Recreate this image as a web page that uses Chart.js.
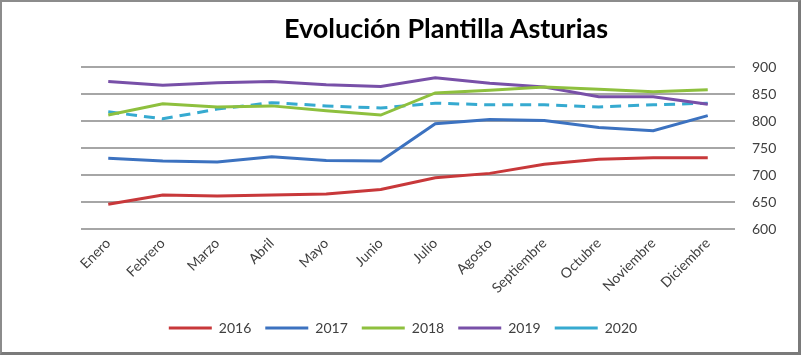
<!DOCTYPE html>
<html>
<head>
<meta charset="utf-8">
<script src="https://cdn.jsdelivr.net/npm/chart.js@4/dist/chart.umd.min.js"></script>
<style>
  html, body { margin: 0; padding: 0; background: #fff; }
  #wrap { position: relative; width: 801px; height: 355px; overflow: hidden; }
  #c { position: absolute; left: 0; top: 0; }
  #title { position: absolute; top: 11px; left: 0; width: 892px; text-align: center;
    font-family: Lato, "Liberation Sans", sans-serif; font-weight: bold; font-size: 27px; color: #000; }
  #frame { position: absolute; left: 0; top: 0; width: 801px; height: 355px; box-sizing: border-box;
    border-top: 2px solid #8c8c8c; border-left: 2px solid #8c8c8c;
    border-right: 3px solid #7a7a7a; border-bottom: 3px solid #7a7a7a; pointer-events: none; }
</style>
</head>
<body>
<div id="wrap">
  <canvas id="c" width="801" height="355"></canvas>
  <div id="title">Evolución Plantilla Asturias</div>
  <div id="frame"></div>
</div>
<script>
const months = ["Enero","Febrero","Marzo","Abril","Mayo","Junio","Julio","Agosto","Septiembre","Octubre","Noviembre","Diciembre"];
const yTicks = [600, 650, 700, 750, 800, 850, 900];
const s2016 = [646, 663, 661, 663, 665, 673, 695, 703, 720, 729, 732, 732];
const s2017 = [731, 726, 724, 734, 727, 726, 795, 803, 801, 788, 782, 810];
const s2018 = [811, 832, 826, 828, 819, 811, 852, 857, 863, 859, 854, 858];
const s2019 = [873, 866, 871, 873, 867, 864, 880, 870, 863, 845, 845, 831];
const s2020 = [817, 804, 822, 834, 828, 824, 833, 830, 830, 826, 830, 833];

const font = "Lato, 'Liberation Sans', sans-serif";
function ds(label, data, color, dash) {
  return { label, data, borderColor: color, backgroundColor: color, borderWidth: 3,
    borderDash: dash || [], pointRadius: 0, tension: 0, fill: false };
}
new Chart(document.getElementById('c'), {
  type: 'line',
  data: {
    labels: months,
    datasets: [
      ds('2016', s2016, '#C8383A'),
      ds('2017', s2017, '#3C72C0'),
      ds('2018', s2018, '#8EC03E'),
      ds('2019', s2019, '#7850A8'),
      ds('2020', s2020, '#36AAD0', [11, 7])
    ]
  },
  options: {
    responsive: false,
    animation: false,
    layout: { padding: { left: 25, right: 20, top: 67, bottom: 10 } },
    plugins: {
      title: { display: false },
      tooltip: { enabled: false },
      legend: {
        position: 'bottom',
        labels: {
          usePointStyle: true, pointStyle: 'line', pointStyleWidth: 43, boxHeight: 4,
          color: '#404040', font: { family: font, size: 14 }, padding: 14
        }
      }
    },
    scales: {
      x: {
        offset: true,
        grid: { display: false, drawTicks: false },
        border: { display: false },
        ticks: { color: '#404040', font: { family: font, size: 14 }, minRotation: 45, maxRotation: 45, padding: 6, autoSkip: false },
        afterFit(s) { s.height = 78; s.paddingLeft = 81; s.paddingRight = 0; }
      },
      y: {
        position: 'right',
        min: 600, max: 900,
        afterBuildTicks(s) { s.ticks = yTicks.map(v => ({ value: v })); },
        grid: { color: '#A6A6A6', lineWidth: 2, drawTicks: false },
        border: { display: false },
        ticks: { color: '#404040', font: { family: font, size: 14 }, padding: 17 },
        afterFit(s) { s.width = 46; }
      }
    }
  }
});
</script>
</body>
</html>
